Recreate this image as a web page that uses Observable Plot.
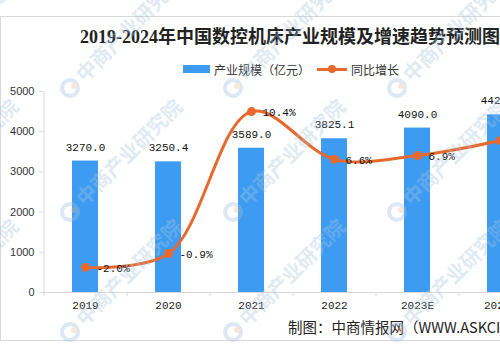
<!DOCTYPE html>
<html><head><meta charset="utf-8">
<script src="https://cdn.jsdelivr.net/npm/d3@7"></script>
<script src="https://cdn.jsdelivr.net/npm/@observablehq/plot@0.6"></script>
<style>
html,body{margin:0;padding:0;background:#fff;overflow:hidden;}
#wrap{position:relative;width:500px;height:360px;overflow:hidden;font-family:"Noto Sans CJK SC",sans-serif;}
#frame{position:absolute;left:0;top:16px;width:620px;height:325px;border:1px solid #d9d9d9;box-sizing:border-box;}
#title{position:absolute;left:80px;top:25px;font-family:"Liberation Serif","Noto Sans CJK SC",serif;font-weight:bold;font-size:18px;color:#222;white-space:nowrap;line-height:24px;}
#legend{position:absolute;left:183px;top:60px;font-size:12px;color:#333;white-space:nowrap;display:flex;align-items:center;height:18px;}
#legend .sw{display:inline-block;width:27px;height:8px;background:#3d9cf2;margin-right:4px;}
#legend .ln{display:inline-block;position:relative;width:30px;height:3px;background:#e8692e;margin:0 4px 0 7px;}
#legend .ln:after{content:"";position:absolute;left:11px;top:-3px;width:8px;height:8px;border-radius:50%;background:#e8692e;}
#chart{position:absolute;left:0;top:80px;width:560px;}
#chart svg{max-width:none !important;}
#caption{position:absolute;left:288px;top:317px;font-size:14.5px;color:#222;white-space:nowrap;line-height:20px;}
#wm{position:absolute;left:0;top:0;width:500px;height:360px;pointer-events:none;}
</style></head>
<body><div id="wrap">
<div id="frame"></div>
<div id="title">2019-2024年中国数控机床产业规模及增速趋势预测图</div>
<div id="legend"><span class="sw"></span><span>产业规模（亿元）</span><span class="ln"></span><span>同比增长</span></div>
<div id="chart"></div>
<div id="caption">制图：中商情报网（WWW.ASKCI.COM）</div>
<svg id="wm"></svg>
</div>
<script>
const years = ["2019","2020","2021","2022","2023E","2024E"];
const scaleValues = [3270.0, 3250.4, 3589.0, 3825.1, 4090.0, 4420.0];
const growthRates = [-2.0, -0.9, 10.4, 6.6, 6.9, 8.1];
const yTicks = [0, 1000, 2000, 3000, 4000, 5000];
const yDomain = [0, 5000];
const growthDomain = [-4, 12];

const data = years.map((year, i) => ({year, value: scaleValues[i], growth: growthRates[i]}));
const toPrimary = g => yDomain[0] + (g - growthDomain[0]) / (growthDomain[1] - growthDomain[0]) * (yDomain[1] - yDomain[0]);

const axisColor = "#d9d9d9";
const monoFont = "'Liberation Mono','DejaVu Sans Mono',monospace";
const blue = "#3d9cf2", orange = "#e8692e";

const plot = Plot.plot({
  width: 560, height: 242,
  marginTop: 11, marginBottom: 30, marginLeft: 43, marginRight: 19,
  style: {background: "transparent", overflow: "visible", maxWidth: "none"},
  x: {type: "band", domain: years, paddingInner: 0.69, paddingOuter: 0.345, label: null},
  y: {domain: yDomain, label: null},
  marks: [
    Plot.barY(data, {x: "year", y: "value", fill: blue}),
    Plot.ruleY([0], {stroke: axisColor}),
    Plot.ruleX([years[0]], {x: d => d, dx: -41.5, y1: yDomain[0], y2: yDomain[1], stroke: axisColor}),
    Plot.axisY({ticks: yTicks, tickFormat: d => String(d), tickSize: 4, tickPadding: 5, fontSize: 11, stroke: axisColor, fill: "#333", fontFamily: "'Liberation Sans',Arial,sans-serif", label: null}),
    Plot.axisX({tickSize: 0, tickPadding: 9, fontSize: 11, fill: "#222", fontFamily: monoFont, label: null}),
    Plot.axisX({tickSize: 4, text: null, dx: -41.5, stroke: axisColor, label: null}),
    Plot.text(data, {x: "year", y: "value", text: d => d.value.toFixed(1), dy: -14, fontSize: 11, fill: "#111", fontFamily: monoFont}),
    Plot.line(data, {x: "year", y: d => toPrimary(d.growth), stroke: orange, strokeWidth: 3, curve: "catmull-rom"}),
    Plot.dot(data, {x: "year", y: d => toPrimary(d.growth), r: 4.5, fill: orange}),
    Plot.text(data, {x: "year", y: d => toPrimary(d.growth), text: d => d.growth.toFixed(1) + "%", dx: 11, dy: 1, textAnchor: "start", fontSize: 11, fill: "#111", fontFamily: monoFont})
  ]
});
document.getElementById("chart").appendChild(plot);

// faint watermark decoration
const wm = d3.select("#wm");
const wmX = [-94, 70, 233, 397, 561], wmY = [88, 212, 332];
wmX.forEach(x0 => wmY.forEach(y0 => {
  const g = wm.append("g").attr("transform", `translate(${x0},${y0})`).attr("opacity", 0.35);
  g.append("circle").attr("r", 8).attr("fill", "none").attr("stroke", "#9fc0e0").attr("stroke-width", 4);
  g.append("circle").attr("r", 3).attr("cx", 4).attr("cy", -2).attr("fill", "#f0b890");
  g.append("text").attr("transform", "rotate(-45)").attr("x", 14).attr("y", 7)
    .attr("font-size", 20).attr("font-family", "'Noto Sans CJK SC',sans-serif").attr("font-weight", "bold")
    .attr("fill", "#a9c4de").text("中商产业研究院");
}));
</script>
</body></html>
